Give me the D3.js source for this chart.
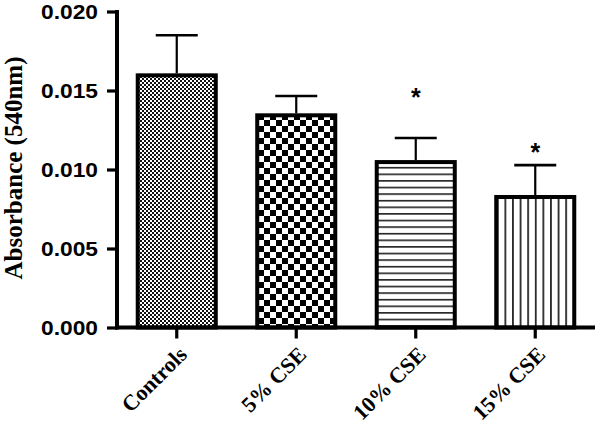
<!DOCTYPE html>
<html>
<head>
<meta charset="utf-8">
<script src="https://cdn.jsdelivr.net/npm/d3@7"></script>
<style>
  body { margin: 0; background: #fff; }
</style>
</head>
<body>
<div id="chart"></div>
<script>
const groups    = ["Controls", "5% CSE", "10% CSE", "15% CSE"],
      means     = [0.01596, 0.01343, 0.01047, 0.00826],
      sems      = [0.00254, 0.00122, 0.00152, 0.00202],
      stars     = [null, null, 0.01421, 0.01073],
      yTicks    = [0, 0.005, 0.010, 0.015, 0.020],
      fills     = ["fine", "checker", "hlines", "vlines"];

const width  = 600,
      height = 426,
      x0 = 117, x1 = 595,
      yTop = 11.5, yBot = 327.5;

const svg = d3.select("#chart").append("svg")
  .attr("width", width)
  .attr("height", height);

// hatch patterns
const defs = svg.append("defs");

const fine = defs.append("pattern").attr("id", "fine")
  .attr("patternUnits", "userSpaceOnUse").attr("width", 4).attr("height", 4);
fine.append("rect").attr("width", 4).attr("height", 4).attr("fill", "#fff");
fine.append("rect").attr("width", 2).attr("height", 2).attr("fill", "#111");
fine.append("rect").attr("x", 2).attr("y", 2).attr("width", 2).attr("height", 2).attr("fill", "#111");

const checker = defs.append("pattern").attr("id", "checker")
  .attr("patternUnits", "userSpaceOnUse").attr("width", 12).attr("height", 12);
checker.append("rect").attr("width", 12).attr("height", 12).attr("fill", "#fff");
checker.append("rect").attr("width", 6).attr("height", 6).attr("fill", "#000");
checker.append("rect").attr("x", 6).attr("y", 6).attr("width", 6).attr("height", 6).attr("fill", "#000");

const hl = defs.append("pattern").attr("id", "hlines")
  .attr("patternUnits", "userSpaceOnUse").attr("width", 10).attr("height", 6.6);
hl.append("rect").attr("width", 10).attr("height", 6.6).attr("fill", "#fff");
hl.append("rect").attr("y", 2).attr("width", 10).attr("height", 1.4).attr("fill", "#000");

const vl = defs.append("pattern").attr("id", "vlines")
  .attr("patternUnits", "userSpaceOnUse").attr("width", 7.6).attr("height", 10);
vl.append("rect").attr("width", 7.6).attr("height", 10).attr("fill", "#fff");
vl.append("rect").attr("x", 3).attr("width", 1.5).attr("height", 10).attr("fill", "#000");

// scales
const x = d3.scaleBand()
  .domain(groups)
  .range([x0, x1])
  .paddingInner(0.347)
  .paddingOuter(0.1735);

const y = d3.scaleLinear()
  .domain([0, 0.020])
  .range([yBot, yTop]);

// bars
const bar = svg.append("g").selectAll("g")
  .data(groups)
  .join("g");

bar.append("rect")
  .attr("x", d => x(d))
  .attr("width", x.bandwidth())
  .attr("y", (d, i) => y(means[i]))
  .attr("height", (d, i) => y(0) - y(means[i]))
  .attr("fill", (d, i) => `url(#${fills[i]})`)
  .attr("stroke", "#000")
  .attr("stroke-width", 4);

// error bars (upper only)
bar.append("line")
  .attr("x1", d => x(d) + x.bandwidth() / 2)
  .attr("x2", d => x(d) + x.bandwidth() / 2)
  .attr("y1", (d, i) => y(means[i]) - 2)
  .attr("y2", (d, i) => y(means[i] + sems[i]))
  .attr("stroke", "#000")
  .attr("stroke-width", 2.2);

bar.append("line")
  .attr("x1", d => x(d) + x.bandwidth() / 2 - 21)
  .attr("x2", d => x(d) + x.bandwidth() / 2 + 21)
  .attr("y1", (d, i) => y(means[i] + sems[i]))
  .attr("y2", (d, i) => y(means[i] + sems[i]))
  .attr("stroke", "#000")
  .attr("stroke-width", 2.6);

// significance marks
bar.filter((d, i) => stars[i] != null).append("text")
  .attr("x", d => x(d) + x.bandwidth() / 2)
  .attr("y", d => y(stars[groups.indexOf(d)]) + 3)
  .attr("text-anchor", "middle")
  .style("font-family", "'Liberation Sans', Arial, sans-serif")
  .style("font-weight", "bold")
  .style("font-size", "25px")
  .text("*");

// y axis
const yAxis = svg.append("g")
  .attr("transform", `translate(${x0},0)`)
  .call(d3.axisLeft(y).tickValues(yTicks).tickFormat(d3.format(".3f"))
    .tickSize(10).tickSizeOuter(0).tickPadding(9));

yAxis.select(".domain").attr("stroke-width", 4).attr("d", `M0,${yTop - 1.5}V${yBot + 2}`);
yAxis.selectAll(".tick line").attr("stroke-width", 3.2);
yAxis.selectAll(".tick text")
  .attr("fill", "#000")
  .attr("dy", "0.36em")
  .attr("textLength", 57)
  .attr("lengthAdjust", "spacingAndGlyphs")
  .style("font-family", "'Liberation Sans', Arial, sans-serif")
  .style("font-weight", "bold")
  .style("font-size", "20px");

// x axis
const xAxis = svg.append("g")
  .attr("transform", `translate(0,${yBot})`)
  .call(d3.axisBottom(x).tickSize(11).tickSizeOuter(0));

xAxis.select(".domain").attr("stroke-width", 4).attr("d", `M${x0 - 2},0H${x1}`);
xAxis.selectAll(".tick line").attr("stroke-width", 3.2);
xAxis.selectAll(".tick text")
  .attr("fill", "#000")
  .attr("text-anchor", "end")
  .attr("x", 0)
  .attr("y", 0)
  .attr("dy", "0.35em")
  .attr("transform", "translate(6,23) rotate(-45)")
  .style("font-family", "'Liberation Serif', 'Times New Roman', serif")
  .style("font-weight", "bold")
  .style("font-size", "22px");

// y label
svg.append("text")
  .attr("transform", `translate(22,168) rotate(-90)`)
  .attr("text-anchor", "middle")
  .style("font-family", "'Liberation Serif', 'Times New Roman', serif")
  .style("font-weight", "bold")
  .style("font-size", "25px")
  .text("Absorbance (540nm)");
</script>
</body>
</html>
